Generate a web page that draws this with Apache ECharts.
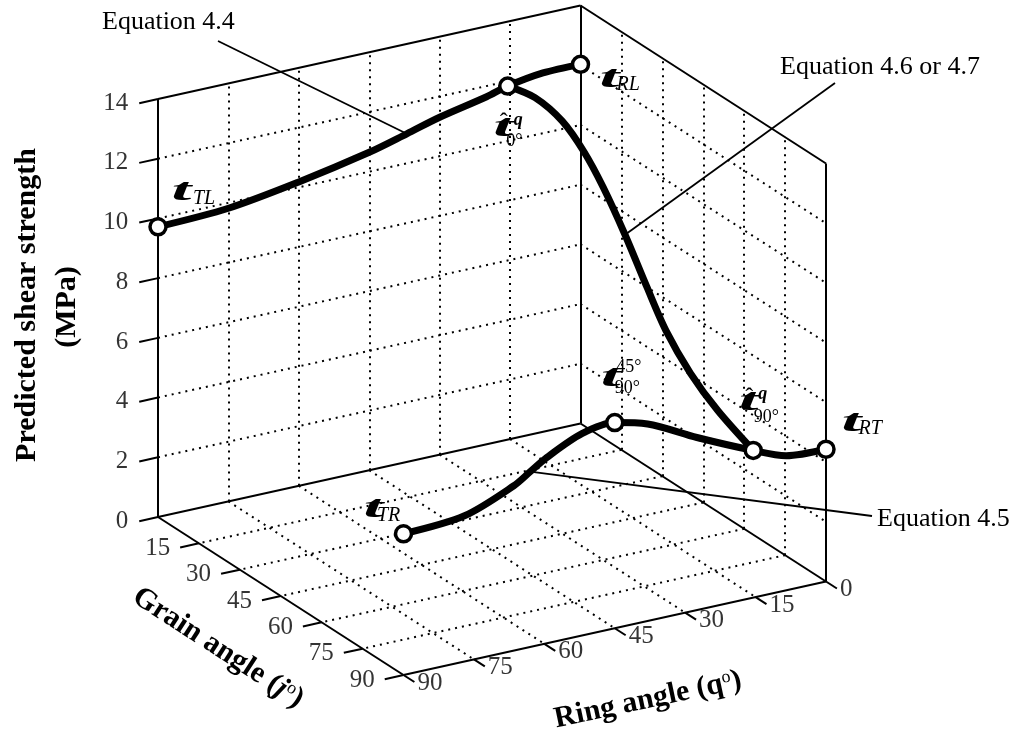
<!DOCTYPE html>
<html>
<head>
<meta charset="utf-8">
<script src="https://cdn.jsdelivr.net/npm/echarts@6.0.0/dist/echarts.min.js"></script>
<style>
  html, body { margin: 0; padding: 0; background: #fff; }
  #chart { width: 1016px; height: 732px; }
</style>
</head>
<body>
<div id="chart"></div>
<script>
// axis ticks
var strengthTicks = [0, 2, 4, 6, 8, 10, 12, 14];
var grainTicks = [15, 30, 45, 60, 75, 90];
var ringTicks = [0, 15, 30, 45, 60, 75, 90];
var gridAngles = [15, 30, 45, 60, 75];
var gridStrengths = [2, 4, 6, 8, 10, 12];

// Equation 4.4 : grain angle 0, ring angle 90 -> 0
var eq44Ring = [90, 75, 60, 45, 37, 30, 20, 15.5, 8, 0];
var eq44Strength = [9.72, 9.82, 10.18, 10.65, 10.99, 11.3, 11.64, 11.84, 12.02, 12.03];

// Equation 4.6 or 4.7 : ring angle = theta hat (15.5), grain angle 0 -> 90
var eq46Grain = [0, 10, 20, 28, 35, 43, 51, 58, 67, 77, 90];
var eq46Strength = [11.84, 12.04, 11.84, 11.28, 10.51, 9.39, 8.11, 7.06, 6.16, 5.5, 4.93];

// Equation 4.5 : grain angle 90, ring angle 90 -> 0
var eq45Ring = [90, 77, 66.5, 63, 59.5, 52, 45, 38, 27.5, 15.5, 8.5, 0];
var eq45Strength = [4.73, 4.88, 5.52, 5.87, 6.22, 6.76, 6.89, 6.6, 5.78, 4.93, 4.51, 4.43];

// marked points: TL, hat0, RL, 45/90, hat90, RT, TR
var pointGrain = [0, 0, 0, 90, 90, 90, 90];
var pointRing = [90, 15.5, 0, 45, 15.5, 0, 90];
var pointStrength = [9.72, 11.84, 12.03, 6.89, 4.93, 4.43, 4.73];

var W = 1016, H = 732;
var SERIF = '"Liberation Serif", "Times New Roman", serif';

// orthographic projection of the 3d box (grain, ring, strength) onto the page
var origin = [580.5, 423.5];
var ringVec = [(158 - 580.5) / 90, (517 - 423.5) / 90];
var grainVec = [(826 - 580.5) / 90, (581.5 - 423.5) / 90];
var strengthVec = [0, -418 / 14];
function proj(g, r, s) {
  return [origin[0] + r * ringVec[0] + g * grainVec[0] + s * strengthVec[0],
          origin[1] + r * ringVec[1] + g * grainVec[1] + s * strengthVec[1]];
}
function seg(a, b) { return { coords: [proj(a[0], a[1], a[2]), proj(b[0], b[1], b[2])] }; }

// box edges
var boxSegs = [
  seg([0, 90, 0], [90, 90, 0]),
  seg([90, 90, 0], [90, 0, 0]),
  seg([0, 90, 0], [0, 0, 0]),
  seg([0, 0, 0], [90, 0, 0]),
  seg([0, 90, 0], [0, 90, 14]),
  seg([0, 0, 0], [0, 0, 14]),
  seg([90, 0, 0], [90, 0, 14]),
  seg([0, 90, 14], [0, 0, 14]),
  seg([0, 0, 14], [90, 0, 14])
];

// dotted grid on the floor and the two back walls
var gridSegs = [];
gridAngles.forEach(function (a) {
  gridSegs.push(seg([0, a, 0], [0, a, 14]));
  gridSegs.push(seg([a, 0, 0], [a, 0, 14]));
  gridSegs.push(seg([0, a, 0], [90, a, 0]));
  gridSegs.push(seg([a, 0, 0], [a, 90, 0]));
});
gridStrengths.forEach(function (s) {
  gridSegs.push(seg([0, 90, s], [0, 0, s]));
  gridSegs.push(seg([0, 0, s], [90, 0, s]));
});

var tickLen = 4;
var tickSegs = [];
var zLabels = [], grainLabels = [], ringLabels = [];
strengthTicks.forEach(function (s) {
  tickSegs.push(seg([0, 90, s], [0, 90 + tickLen, s]));
  var p = proj(0, 90 + tickLen, s);
  zLabels.push([p[0], p[1], String(s)]);
});
grainTicks.forEach(function (g) {
  tickSegs.push(seg([g, 90, 0], [g, 90 + tickLen, 0]));
  var p = proj(g, 90 + tickLen, 0);
  grainLabels.push([p[0], p[1] + 1, String(g)]);
});
ringTicks.forEach(function (r) {
  tickSegs.push(seg([90, r, 0], [90 + tickLen, r, 0]));
  var p = proj(90 + tickLen, r, 0);
  ringLabels.push([p[0], p[1] + 1, String(r)]);
});

function curve(gs, rs, ss) {
  return ss.map(function (s, i) { return proj(gs[i], rs[i], s); });
}
var eq44Data = curve(eq44Ring.map(function () { return 0; }), eq44Ring, eq44Strength);
var eq46Data = curve(eq46Grain, eq46Grain.map(function () { return 15.5; }), eq46Strength);
var eq45Data = curve(eq45Ring.map(function () { return 90; }), eq45Ring, eq45Strength);
var pointData = curve(pointGrain, pointRing, pointStrength);

// leader lines from the equation labels to the curves
var leaderSegs = [
  { coords: [[218, 41], eq44Data[4]] },
  { coords: [[835, 83], eq46Data[5]] },
  { coords: [[872, 516], eq45Data[3]] }
];

function labelSeries(data, position, distance) {
  return {
    type: 'scatter', data: data, symbolSize: 0, silent: true,
    label: {
      show: true, position: position, distance: distance,
      formatter: function (p) { return p.value[2]; },
      fontFamily: SERIF, fontSize: 25, color: '#000'
    }
  };
}

// point labels: [text, font, dx, baseline dy, scaleX]
var T = 'italic bold 31px ' + SERIF;
var SUB = 'italic 20px ' + SERIF;
var NUM = '18px ' + SERIF;
var Q = 'italic bold 18px ' + SERIF;
var HAT = '24px ' + SERIF;
var TX = 2.3;
var pointLabelParts = [
  [['t', T, 13.5, -24.7, TX], ['TL', SUB, 35, -21.7]],
  [['t', T, -14.5, 52.3, TX], ['\u02c6', HAT, -8, 45], ['q', Q, 6, 40.3], ['0\u00b0', NUM, -1.5, 61]],
  [['t', T, 19, 25, TX], ['RL', SUB, 36, 27.7]],
  [['t', T, -14, -34.4, TX], ['45\u00b0', NUM, 1.5, -48.7], ['90\u00b0', NUM, 0, -27.7]],
  [['t', T, -14.5, -37.4, TX], ['\u02c6', HAT, -8, -44.5], ['q', Q, 5, -50], ['90\u00b0', NUM, 0.5, -27]],
  [['t', T, 15.5, -15.3, TX], ['RT', SUB, 32.5, -13.3]],
  [['t', T, -40, -14.4, TX], ['TR', SUB, -26.5, -11]]
];

var graphics = [];
pointLabelParts.forEach(function (parts, i) {
  var p = pointData[i];
  parts.forEach(function (part) {
    var size = parseFloat(part[1].match(/(\d+)px/)[1]);
    graphics.push({
      type: 'text', silent: true,
      x: p[0] + part[2], y: p[1] + part[3] - 0.34 * size,
      scaleX: part[4] || 1,
      style: { text: part[0], font: part[1], fill: '#000', align: 'left', verticalAlign: 'middle' }
    });
  });
});

function plainText(x, y, text, font, align) {
  return { type: 'text', silent: true, x: x, y: y,
    style: { text: text, font: font, fill: '#000', align: align || 'left', verticalAlign: 'middle' } };
}
var EQ = '26px ' + SERIF;
graphics.push(plainText(102, 22, 'Equation 4.4', EQ));
graphics.push(plainText(780, 67, 'Equation 4.6 or 4.7', EQ));
graphics.push(plainText(877, 519, 'Equation 4.5', EQ));

var TITLE = 'bold 30px ' + SERIF;
graphics.push({ type: 'text', silent: true, x: 27, y: 305, rotation: Math.PI / 2,
  style: { text: 'Predicted shear strength', font: TITLE, fill: '#000', align: 'center', verticalAlign: 'middle' } });
graphics.push({ type: 'text', silent: true, x: 67, y: 307, rotation: Math.PI / 2,
  style: { text: '(MPa)', font: TITLE, fill: '#000', align: 'center', verticalAlign: 'middle' } });

var titleRich = {
  b: { font: TITLE },
  g: { font: 'italic bold 30px ' + SERIF },
  q: { font: TITLE },
  s: { font: '18px ' + SERIF, verticalAlign: 'top' }
};
graphics.push({ type: 'text', silent: true, x: 218, y: 648, rotation: -33 * Math.PI / 180,
  style: { text: '{b|Grain angle (}{g|j}{s|o}{b|)}', rich: titleRich, fill: '#000', align: 'center', verticalAlign: 'middle' } });
graphics.push({ type: 'text', silent: true, x: 648, y: 700, rotation: 12 * Math.PI / 180,
  style: { text: '{b|Ring angle (}{q|q}{s|o}{b|)}', rich: titleRich, fill: '#000', align: 'center', verticalAlign: 'middle' } });

var chart = echarts.init(document.getElementById('chart'));
var curveStyle = { color: '#000', width: 7, cap: 'round', join: 'round' };
chart.setOption({
  animation: false,
  backgroundColor: '#fff',
  grid: { left: 0, right: 0, top: 0, bottom: 0 },
  xAxis: { type: 'value', min: 0, max: W, show: false },
  yAxis: { type: 'value', min: 0, max: H, inverse: true, show: false },
  series: [
    { type: 'lines', coordinateSystem: 'cartesian2d', silent: true, data: gridSegs,
      lineStyle: { color: '#000', width: 2, type: [2, 5], opacity: 1, curveness: 0 } },
    { type: 'lines', coordinateSystem: 'cartesian2d', silent: true, data: boxSegs.concat(tickSegs),
      lineStyle: { color: '#000', width: 2, opacity: 1, curveness: 0 } },
    { type: 'lines', coordinateSystem: 'cartesian2d', silent: true, data: leaderSegs,
      lineStyle: { color: '#000', width: 1.8, opacity: 1, curveness: 0 } },
    { type: 'line', data: eq44Data, smooth: 0.3, symbol: 'none', silent: true, lineStyle: curveStyle },
    { type: 'line', data: eq46Data, smooth: 0.3, symbol: 'none', silent: true, lineStyle: curveStyle },
    { type: 'line', data: eq45Data, smooth: 0.3, symbol: 'none', silent: true, lineStyle: curveStyle },
    { type: 'scatter', data: pointData, symbol: 'circle', symbolSize: 16, silent: true, z: 5,
      itemStyle: { color: '#fff', borderColor: '#000', borderWidth: 3.5, opacity: 1 } },
    labelSeries(zLabels, 'left', 11),
    labelSeries(grainLabels, 'left', 10),
    labelSeries(ringLabels, 'right', 3)
  ],
  graphic: graphics
});

window.addEventListener('resize', function () {
  chart.resize();
});
</script>
</body>
</html>
